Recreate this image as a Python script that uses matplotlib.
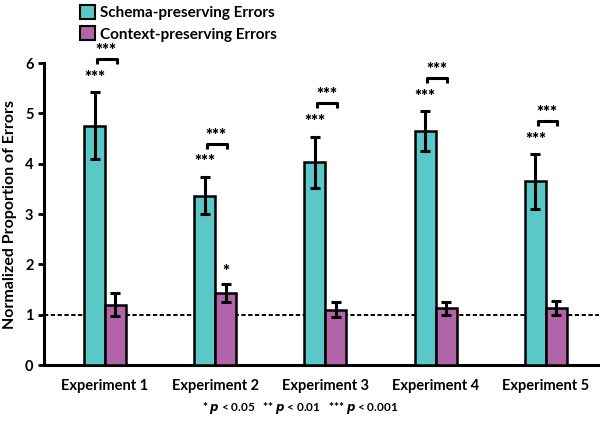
import numpy as np
import matplotlib.pyplot as plt
from matplotlib.patches import Patch

plt.rcParams['font.family'] = ['Lato', 'DejaVu Sans']
plt.rcParams['font.weight'] = 'bold'

experiments = ["Experiment 1", "Experiment 2", "Experiment 3", "Experiment 4", "Experiment 5"]
schema = [4.76, 3.37, 4.03, 4.65, 3.65]
schema_err = [0.66, 0.37, 0.51, 0.39, 0.54]
context = [1.20, 1.43, 1.10, 1.13, 1.13]
context_err = [0.23, 0.18, 0.15, 0.13, 0.14]
schema_sig = ["***", "***", "***", "***", "***"]
context_sig = ["", "*", "", "", ""]
pair_sig = ["***", "***", "***", "***", "***"]

teal = "#5bc8c8"
purple = "#b264a8"

fig = plt.figure(figsize=(6, 4.24), dpi=100)
ax = fig.add_axes([0.073, 0.139, 0.925, 0.712])

x = np.arange(len(experiments))
w = 0.19
ekw = dict(elinewidth=2.2, capthick=2.2, capsize=3.5, ecolor="black")
ax.bar(x - w / 2, schema, w, yerr=schema_err, color=teal, edgecolor="black",
       linewidth=1.8, error_kw=ekw, zorder=3)
ax.bar(x + w / 2, context, w, yerr=context_err, color=purple, edgecolor="black",
       linewidth=1.8, error_kw=ekw, zorder=3)

ax.axhline(1, color="black", linestyle=(0, (2.2, 1.3)), linewidth=1.4, zorder=2)

for i in range(len(experiments)):
    top = schema[i] + schema_err[i]
    if schema_sig[i]:
        ax.text(x[i] - w / 2, top + 0.13, schema_sig[i], ha="center", va="bottom",
                fontsize=12, fontweight="heavy")
    if context_sig[i]:
        ax.text(x[i] + w / 2, context[i] + context_err[i] + 0.08, context_sig[i],
                ha="center", va="bottom", fontsize=12, fontweight="heavy")
    by = top + 0.66
    ax.plot([x[i] - w / 2 + 0.02, x[i] - w / 2 + 0.02, x[i] + w / 2 + 0.01, x[i] + w / 2 + 0.01],
            [by - 0.1, by, by, by - 0.1], color="black", linewidth=2.2,
            solid_capstyle="butt", clip_on=False)
    ax.text(x[i] + 0.01, by + 0.0, pair_sig[i], ha="center", va="bottom",
            fontsize=12, fontweight="heavy")

ax.set_xlim(-0.555, 4.48)
ax.set_ylim(0, 6)
ax.set_yticks(range(0, 7))
ax.set_xticks(x)
ax.set_xticklabels(experiments, fontsize=10.5, fontweight="bold")
ax.tick_params(axis="y", labelsize=10.5, width=2, length=4, direction="out")
ax.tick_params(axis="x", length=0, pad=10)
for s in ["top", "right"]:
    ax.spines[s].set_visible(False)
for s in ["left", "bottom"]:
    ax.spines[s].set_linewidth(2.2)
ax.set_ylabel("Normalized Proportion of Errors", fontsize=11.5, fontweight="bold", labelpad=6)

handles = [Patch(facecolor=teal, edgecolor="black", linewidth=1.5),
           Patch(facecolor=purple, edgecolor="black", linewidth=1.5)]
fig.legend(handles, ["Schema-preserving Errors", "Context-preserving Errors"],
           loc="upper left", bbox_to_anchor=(0.11, 1.02), frameon=False,
           handlelength=1.0, handleheight=1.0, handletextpad=0.3,
           labelspacing=0.4, prop={"weight": "bold", "size": 11})

fig.text(0.5, 0.038, r"* $\it{p}$ < 0.05   ** $\it{p}$ < 0.01   *** $\it{p}$ < 0.001",
         ha="center", va="center", fontsize=8.5, fontweight="bold")

fig.savefig("out.png", dpi=100)
